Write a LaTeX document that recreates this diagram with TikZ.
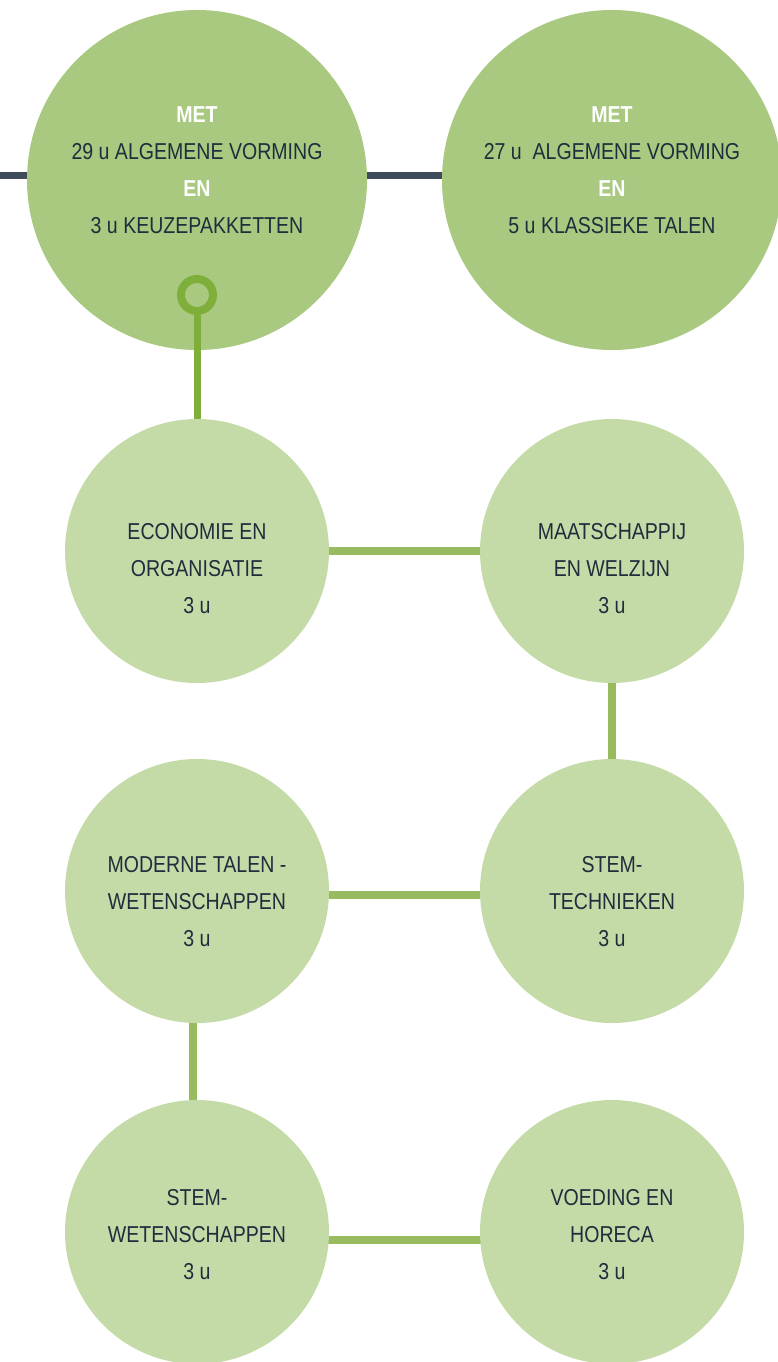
\documentclass[tikz,border=0pt]{standalone}
\usepackage{fontspec}
\setmainfont[FakeStretch=0.85]{Liberation Sans}
\usetikzlibrary{backgrounds}
\definecolor{topgreen}{HTML}{A8C97F}
\definecolor{lowgreen}{HTML}{C4DBA7}
\definecolor{linkgreen}{HTML}{97BB5E}
\definecolor{ringgreen}{HTML}{7FAF3B}
\definecolor{slate}{HTML}{3F4C5B}
\definecolor{textdark}{HTML}{1F2D3D}
\tikzstyle{bigcirc}=[circle, fill=topgreen, minimum size=340pt, inner sep=0pt]
\tikzstyle{smallcirc}=[circle, fill=lowgreen, minimum size=264pt, inner sep=0pt]
\tikzstyle{caption}=[align=center, text=textdark, font=\fontsize{23}{37}\selectfont]
\tikzstyle{ring}=[circle, draw=ringgreen, line width=8pt, minimum size=32pt, inner sep=0pt]
\tikzstyle{link}=[draw=linkgreen, line width=8pt]
\tikzstyle{stem}=[draw=ringgreen, line width=7pt]
\tikzstyle{bar}=[draw=slate, line width=7pt]
\newcommand{\wt}[1]{\textcolor{white}{\textbf{#1}}}

\begin{document}
\begin{tikzpicture}[x=1pt,y=-1pt]
    \useasboundingbox (0,0) rectangle (778,1362);
    \node[bigcirc] (avk) at (197,180) {};
    \node[bigcirc] (akt) at (612,180) {};
    \node[caption] (avk-t) at (197,170) {\wt{MET} \\ 29 u ALGEMENE VORMING \\ \wt{EN} \\ 3 u KEUZEPAKKETTEN};
    \node[caption] (akt-t) at (612,170) {\wt{MET} \\ 27 u\ \ ALGEMENE VORMING \\ \wt{EN} \\ 5 u KLASSIEKE TALEN};
    \node[ring] (knot) at (197,295) {};

    \node[smallcirc] (eo) at (197,551) {};
    \node[smallcirc] (mw) at (612,551) {};
    \node[smallcirc] (mtw) at (197,891) {};
    \node[smallcirc] (stt) at (612,891) {};
    \node[smallcirc] (stw) at (197,1232) {};
    \node[smallcirc] (vh) at (612,1232) {};
    \node[caption] (eo-t) at (197,569) {ECONOMIE EN \\ ORGANISATIE \\ 3 u};
    \node[caption] (mw-t) at (612,569) {MAATSCHAPPIJ \\ EN WELZIJN \\ 3 u};
    \node[caption] (mtw-t) at (197,902) {MODERNE TALEN - \\ WETENSCHAPPEN \\ 3 u};
    \node[caption] (stt-t) at (612,902) {STEM- \\ TECHNIEKEN \\ 3 u};
    \node[caption] (stw-t) at (197,1235) {STEM- \\ WETENSCHAPPEN \\ 3 u};
    \node[caption] (vh-t) at (612,1235) {VOEDING EN \\ HORECA \\ 3 u};

    \path[stem] (knot.south) -- (eo.north);

    \begin{scope}[on background layer]
        \coordinate (edge) at (0,175);
        \path[bar] (edge) -- ([yshift=5pt]akt.center);
        \path[link] (eo) -- (mw);
        \path[link] (mw) -- (stt);
        \path[link] ([yshift=-4pt]mtw.center) -- ([yshift=-4pt]stt.center);
        \path[link] ([xshift=-4pt]mtw.center) -- ([xshift=-4pt]stw.center);
        \path[link] ([yshift=-8pt]stw.center) -- ([yshift=-8pt]vh.center);
    \end{scope}
\end{tikzpicture}
\end{document}
